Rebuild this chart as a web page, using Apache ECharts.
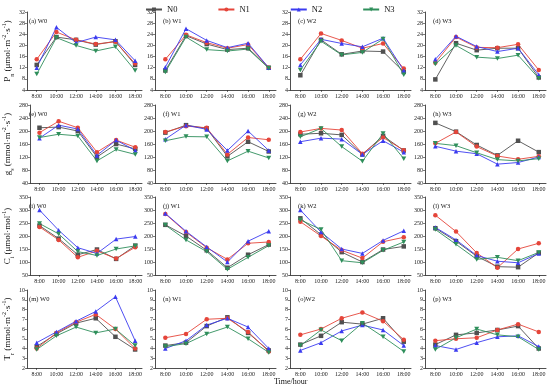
<!DOCTYPE html>
<html><head><meta charset="utf-8">
<script src="https://cdn.jsdelivr.net/npm/echarts@6/dist/echarts.min.js"></script>
<style>html,body{margin:0;padding:0;background:#fff}#c{width:550px;height:386px}</style>
</head><body><div id="c"></div>
<script>
// x positions (hours) and tick labels
const hours = [8, 10, 12, 14, 16, 18];
const tickLabels = ['8:00', '10:00', '12:00', '14:00', '16:00', '18:00'];
const seriesNames = ['N0', 'N1', 'N2', 'N3'];
const panelLabels = ['(a) W0','(b) W1','(c) W2','(d) W3','(e) W0','(f) W1','(g) W2','(h) W3',
                     '(i) W0','(j) W1','(k) W2','(l) W3','(m) W0','(n) W1','(o)W2','(p) W3'];

// Pn (μmol m-2 s-1): rows N0, N1, N2, N3
const pnW0 = [[13,23,22,20.3,21.5,13],[15,24.8,22,20.5,21.3,13.5],[12,26.5,21,23,22,14.5],[9.7,22.8,20,18,19.5,11]];
const pnW1 = [[11,23.5,20.5,18.5,19,12],[15,23.8,21,19,20.3,12],[12.2,26,21.8,19.2,20.8,12],[10.5,23,18.5,18,18.7,11.8]];
const pnW2 = [[9.3,22,16.8,18,17.8,10.5],[15,24.3,21.8,19,20.7,11.7],[13,22.2,20.7,19.5,22.6,11],[11.2,21.5,16.6,17.5,22.3,9.5]];
const pnW3 = [[7.8,20.8,18.3,19,19,8.5],[13.8,23,19.3,19.2,20.4,11.2],[15,23.3,19.6,17.8,19,9.5],[13.3,20,15.8,15.3,16.5,8.2]];
// gs (mmol m-2 s-1)
const gsW0 = [[210,212,200,120,160,145],[195,230,210,135,172,150],[178,218,206,125,172,140],[180,190,185,108,143,128]];
const gsW1 = [[195,218,208,122,167,137],[197,215,210,128,180,173],[175,218,205,140,200,140],[170,183,182,108,138,117]];
const gsW2 = [[190,193,188,128,185,140],[197,208,203,130,180,141],[167,178,175,128,170,135],[182,208,152,107,192,115]];
const gsW3 = [[225,198,157,125,170,135],[162,197,152,123,113,122],[153,138,130,98,103,120],[162,155,133,112,108,115]];
// Ci (μmol mol-1)
const ciW0 = [[240,190,128,148,112,163],[235,185,118,143,113,157],[300,222,155,133,188,198],[248,208,140,125,150,162]];
const ciW1 = [[243,200,145,78,128,167],[285,215,155,110,172,177],[287,218,158,100,180,218],[242,185,140,72,118,163]];
const ciW2 = [[268,205,138,100,148,160],[255,200,145,115,178,195],[300,215,150,133,183,220],[262,225,105,97,145,177]];
const ciW3 = [[230,180,122,82,80,135],[280,217,135,78,150,172],[233,185,125,103,97,133],[225,168,110,118,105,137]];
// Tr (mmol m-2 s-1)
const trW0 = [[4.2,5.5,6.6,7.1,5.2,3.9],[4.0,5.6,6.7,7.5,6.0,4.0],[4.6,5.7,6.8,7.8,9.3,4.8],[3.9,5.3,6.2,5.6,6.0,4.3]];
const trW1 = [[4.3,4.6,6.3,7.2,5.6,3.8],[5.1,5.5,7.0,7.1,5.7,3.7],[4.0,4.8,6.4,7.1,6.2,4.0],[4.2,4.5,5.5,6.2,5.0,3.6]];
const trW2 = [[4.4,5.3,6.7,6.5,7.1,4.7],[5.4,6.0,7.1,7.7,6.8,4.9],[3.8,4.6,5.8,6.4,5.9,4.3],[4.3,5.9,4.8,6.6,5.2,3.7]];
const trW3 = [[4.4,5.4,5.6,5.9,6.3,4.0],[4.8,5.0,5.1,5.9,6.5,5.7],[4.3,3.9,4.6,5.2,5.3,4.2],[3.9,5.1,6.0,5.4,5.2,3.9]];

const panels = [pnW0,pnW1,pnW2,pnW3, gsW0,gsW1,gsW2,gsW3, ciW0,ciW1,ciW2,ciW3, trW0,trW1,trW2,trW3];
const yRanges = [[4,32,4],[40,280,40],[50,350,50],[2,10,1]];

const colors = ['#505050', '#e5453a', '#3b3bf0', '#2f8f5b'];
const symbols = ['rect', 'circle', 'triangle', 'path://M0,0 L10,0 L5,9 Z'];

const lefts = [21, 155, 290, 425];
const tops = [12, 105, 197, 290];
const W = 121, H = 78;
const FONT = 'Liberation Serif';

const yNames = [
  '{m|P}{s|n}{m| (μmol·m}{p|-2}{m|·s}{p|-1}{m|)}',
  '{m|g}{s|s}{m| (mmol·m}{p|-2}{m|·s}{p|-1}{m|)}',
  '{m|C}{s|i}{m| (μmol·mol}{p|-1}{m|)}',
  '{m|T}{s|r}{m| (mmol·m}{p|-2}{m|·s}{p|-1}{m|)}'
];
const rich = {
  m: {fontFamily: FONT, fontSize: 9, color: '#111', lineHeight: 14, verticalAlign: 'middle'},
  s: {fontFamily: FONT, fontSize: 6, color: '#111', lineHeight: 14, verticalAlign: 'bottom'},
  p: {fontFamily: FONT, fontSize: 6, color: '#111', lineHeight: 14, verticalAlign: 'top'}
};

const grid = [], xAxis = [], yAxis = [], series = [], title = [];
for (let r = 0; r < 4; r++) {
  for (let c = 0; c < 4; c++) {
    const i = r * 4 + c;
    grid.push({left: lefts[c], top: tops[r], width: W, height: H});
    xAxis.push({
      type: 'value', gridIndex: i, min: 7, max: 18.7,
      axisLine: {show: true, lineStyle: {color: '#222', width: 0.8}},
      axisTick: {show: true, length: 2, inside: false, lineStyle: {color: '#222', width: 0.6}, customValues: hours},
      axisLabel: {fontFamily: FONT, fontSize: 6, color: '#222', margin: 3, customValues: hours,
        formatter: v => tickLabels[hours.indexOf(v)] || ''},
      splitLine: {show: false}
    });
    const yr = yRanges[r];
    yAxis.push({
      type: 'value', gridIndex: i, min: yr[0], max: yr[1], interval: yr[2],
      axisLine: {show: true, lineStyle: {color: '#222', width: 0.8}},
      axisTick: {show: true, length: 2, lineStyle: {color: '#222', width: 0.6}},
      axisLabel: {fontFamily: FONT, fontSize: 6, color: '#222', margin: 2},
      splitLine: {show: false},
      name: c === 0 ? yNames[r] : '',
      nameLocation: 'middle', nameGap: 10, nameRotate: 90,
      nameTextStyle: {rich: rich}
    });
    title.push({
      text: panelLabels[i], left: lefts[c] + 3, top: tops[r] + 1,
      textStyle: {fontFamily: FONT, fontSize: 6.5, fontWeight: 'normal', color: '#111'}
    });
    const p = panels[i];
    for (let k = 0; k < 4; k++) {
      series.push({
        name: seriesNames[k], type: 'line', xAxisIndex: i, yAxisIndex: i,
        data: hours.map((h, j) => [h, p[k][j]]),
        symbol: symbols[k], symbolSize: k === 3 ? [5, 4.5] : 4.5,
        itemStyle: {color: colors[k]},
        lineStyle: {color: colors[k], width: 0.9},
        z: 3, silent: true
      });
    }
  }
}

title.push({text: 'Time/hour', left: 269, top: 373,
  textStyle: {fontFamily: FONT, fontSize: 8, fontWeight: 'normal', color: '#111'}});

const chart = echarts.init(document.getElementById('c'), null, {renderer: 'canvas'});
chart.setOption({
  animation: false,
  backgroundColor: '#fff',
  title: title,
  legend: {
    data: seriesNames, left: 140, top: 0, itemGap: 40, itemWidth: 16, itemHeight: 5,
    textStyle: {fontFamily: FONT, fontSize: 8.5, color: '#111'}
  },
  grid: grid, xAxis: xAxis, yAxis: yAxis, series: series
});
</script></body></html>
